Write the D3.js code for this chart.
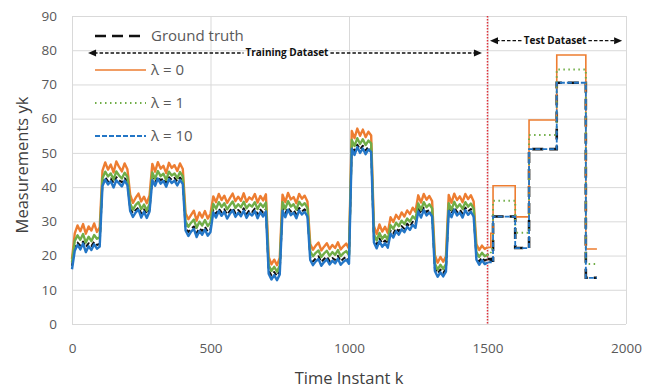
<!DOCTYPE html>
<html>
<head>
<meta charset="utf-8">
<script src="https://cdn.jsdelivr.net/npm/d3@7"></script>
<style>
  body { margin: 0; background: #fff; }
  svg text { font-family: "Open Sans", sans-serif; }
</style>
</head>
<body>
<div id="chart"></div>
<script>
// training part, one sample every 10 steps (k = 0 .. 1500)
const trainStep = 10;

const gtTrain = [
  17, 22.6, 23.8, 22.9, 24.1, 22.5, 23.6, 22.8, 24.0, 23.1, 23.4,
  41.6, 42.8, 41.7, 42.5, 41.2, 42.9, 42.0, 41.4, 42.6, 41.8,
  33.6, 32.4, 33.3, 34.0, 32.3, 33.5, 32.1, 33.4,
  42.7, 41.5, 43.0, 42.0, 42.6, 41.3, 42.9, 42.1, 42.7, 41.6, 42.8, 41.9,
  28.1, 26.9, 27.8, 28.5, 26.6, 28.0, 27.2, 28.4, 27.0, 27.7,
  33.4, 32.2, 33.7, 32.6, 33.5, 32.0, 33.1, 33.9, 32.4, 33.3, 32.5, 33.8, 32.1, 33.2, 32.7, 33.7, 32.0, 33.4, 32.5, 33.6,
  15.6, 14.2, 15.2, 14.0, 15.4,
  33.8, 32.3, 34.0, 32.8, 33.3, 32.0, 33.9, 32.9, 33.5, 32.4,
  19.5, 18.3, 19.2, 19.8, 18.1, 19.0, 19.7, 18.4, 19.3, 18.7, 19.9, 18.3, 19.1, 19.6, 18.6,
  52.0, 50.5, 52.4, 51.0, 52.1, 50.7, 51.8, 51.2,
  24.6, 23.2, 25.0, 23.6, 24.4, 23.4,
  27.3, 26.4, 28.0, 27.1, 28.6, 27.8, 29.3, 28.4, 29.9, 29.1,
  33.7, 32.2, 34.0, 32.7, 33.4, 32.4,
  16.3, 14.8, 15.9, 14.9, 16.1,
  33.8, 32.3, 34.1, 32.7, 33.4, 32.2, 34.0, 32.9, 33.6, 32.4,
  19.6, 18.3, 19.4, 18.5, 19.0
];

const lam0Train = [
  19, 26.5, 28.8, 27.1, 29.2, 26.4, 28.5, 27.3, 29.4, 26.9, 28.2,
  44.8, 47.2, 45.1, 46.6, 44.3, 47.5, 45.9, 44.6, 46.9, 45.2,
  37.8, 35.4, 36.9, 38.1, 35.8, 37.2, 35.3, 37.6,
  46.8, 44.5, 47.3, 45.4, 46.2, 44.1, 47.1, 45.6, 46.4, 44.7, 46.9, 45.3,
  32.4, 30.6, 31.9, 33.1, 30.2, 32.6, 31.1, 33.0, 30.8, 32.2,
  37.3, 35.6, 38.0, 36.2, 37.5, 35.4, 36.8, 38.1, 35.9, 37.2, 36.0, 38.2, 35.7, 37.0, 36.4, 38.0, 35.5, 37.4, 36.1, 37.9,
  19.6, 17.4, 18.8, 17.2, 19.3,
  37.8, 35.6, 38.3, 36.4, 37.1, 35.3, 38.0, 36.6, 37.5, 35.8,
  23.4, 21.7, 22.9, 23.8, 21.5, 22.6, 23.6, 21.9, 23.1, 22.2, 23.9, 21.8, 22.7, 23.5, 22.0,
  56.4, 54.3, 57.1, 55.0, 56.8, 54.6, 56.2, 55.1,
  28.6, 26.3, 29.1, 27.0, 28.4, 26.6,
  31.2, 29.8, 31.9, 30.7, 32.6, 31.4, 33.2, 32.1, 34.0, 32.8,
  37.6, 35.5, 38.0, 36.3, 37.4, 35.9,
  20.1, 17.9, 19.6, 18.2, 19.8,
  37.7, 35.4, 38.1, 36.2, 37.3, 35.6, 38.0, 36.5, 37.6, 35.8,
  23.3, 21.6, 22.9, 21.9, 22.4
];

const lam1Train = [
  18, 24.3, 25.9, 24.6, 26.3, 23.8, 25.5, 24.2, 26.0, 24.9, 25.4,
  42.6, 44.5, 43.1, 44.0, 42.2, 44.6, 43.4, 42.5, 44.2, 43.0,
  35.2, 33.4, 34.8, 35.6, 33.6, 34.9, 33.2, 35.1,
  44.3, 42.4, 44.7, 43.2, 43.9, 42.1, 44.5, 43.4, 44.0, 42.6, 44.4, 43.1,
  30.0, 28.4, 29.6, 30.5, 28.1, 29.9, 28.8, 30.4, 28.6, 29.7,
  35.1, 33.7, 35.6, 34.2, 35.3, 33.5, 34.7, 35.8, 33.9, 35.0, 34.1, 35.7, 33.8, 34.9, 34.3, 35.6, 33.6, 35.2, 34.2, 35.5,
  17.2, 15.5, 16.7, 15.3, 17.0,
  35.6, 33.7, 35.9, 34.3, 35.0, 33.4, 35.7, 34.6, 35.3, 33.9,
  21.2, 19.8, 20.8, 21.5, 19.6, 20.6, 21.4, 19.9, 21.0, 20.2, 21.6, 19.8, 20.7, 21.3, 20.1,
  53.8, 52.0, 54.3, 52.6, 54.0, 52.3, 53.6, 52.8,
  26.2, 24.4, 26.6, 24.9, 26.0, 24.6,
  28.9, 27.8, 29.6, 28.6, 30.2, 29.2, 30.8, 29.9, 31.5, 30.6,
  35.2, 33.4, 35.6, 34.1, 35.0, 33.8,
  17.7, 15.9, 17.3, 16.1, 17.5,
  35.3, 33.4, 35.7, 34.0, 35.0, 33.6, 35.6, 34.3, 35.2, 33.7,
  21.0, 19.6, 20.8, 19.8, 20.2
];

const lam10Train = [
  16, 21.4, 23.1, 21.8, 23.5, 21.0, 22.7, 21.6, 23.3, 22.0, 22.6,
  40.3, 42.2, 40.8, 41.7, 39.9, 42.0, 41.1, 40.2, 41.9, 40.6,
  33.0, 31.3, 32.6, 33.4, 31.1, 32.8, 31.0, 32.9,
  42.0, 40.4, 42.5, 41.0, 41.8, 40.1, 42.3, 41.2, 41.9, 40.5, 42.1, 40.9,
  27.3, 25.7, 27.0, 27.8, 25.4, 27.2, 26.1, 27.6, 25.8, 26.9,
  32.6, 31.1, 33.0, 31.6, 32.8, 30.8, 32.2, 33.2, 31.3, 32.5, 31.5, 33.1, 31.0, 32.4, 31.7, 33.0, 30.9, 32.7, 31.4, 32.9,
  14.7, 13.0, 14.3, 12.8, 14.5,
  33.1, 31.2, 33.4, 31.8, 32.5, 30.9, 33.2, 32.0, 32.8, 31.4,
  18.7, 17.2, 18.3, 19.0, 17.0, 18.1, 18.9, 17.4, 18.5, 17.7, 19.1, 17.3, 18.2, 18.8, 17.6,
  51.2, 49.4, 51.7, 50.0, 51.3, 49.6, 51.0, 50.2,
  23.8, 22.1, 24.2, 22.6, 23.6, 22.3,
  26.4, 25.3, 27.1, 26.1, 27.7, 26.8, 28.4, 27.5, 29.0, 28.1,
  32.9, 31.1, 33.3, 31.7, 32.6, 31.4,
  15.5, 13.8, 15.1, 13.9, 15.3,
  33.0, 31.2, 33.4, 31.7, 32.6, 31.1, 33.3, 31.9, 32.8, 31.4,
  18.8, 17.3, 18.6, 17.5, 18.0
];

// test part: levels hold from each k until the next one
const testK = [1500, 1512, 1520, 1600, 1650, 1750, 1855, 1895];
const gtTest = [19.0, 18.5, 31.4, 22.2, 51.1, 70.5, 13.5, 13.5];
const lam0Test = [22.4, 26.5, 40.4, 31.3, 59.6, 78.6, 21.9, 21.9];
const lam1Test = [20.2, 22.0, 36.0, 26.7, 55.2, 74.4, 17.5, 17.5];
const lam10Test = [18.0, 18.5, 31.4, 22.2, 51.1, 70.5, 13.5, 13.5];

const seriesNames = ['Ground truth', 'λ = 0', 'λ = 1', 'λ = 10'];
const xTicks = [0, 500, 1000, 1500, 2000];
const yTicks = [0, 10, 20, 30, 40, 50, 60, 70, 80, 90];
const splitK = 1500;

const width = 660;
const height = 390;
const margin = { top: 16, right: 34, bottom: 66, left: 72 };

const svg = d3.select('#chart')
  .append('svg')
  .attr('width', width)
  .attr('height', height);

const x = d3.scaleLinear().domain([0, 2000]).range([margin.left, width - margin.right]);
const y = d3.scaleLinear().domain([0, 90]).range([height - margin.bottom, margin.top]);

// grid (also makes the frame)
svg.append('g')
  .attr('transform', `translate(${margin.left},0)`)
  .call(d3.axisLeft(y).tickValues(yTicks).tickSize(-(width - margin.left - margin.right)).tickFormat(''))
  .call(g => g.select('.domain').remove())
  .call(g => g.selectAll('line').attr('stroke', '#d9d9d9'));

svg.append('g')
  .attr('transform', `translate(0,${height - margin.bottom})`)
  .call(d3.axisBottom(x).tickValues(xTicks).tickSize(-(height - margin.top - margin.bottom)).tickFormat(''))
  .call(g => g.select('.domain').remove())
  .call(g => g.selectAll('line').attr('stroke', '#d9d9d9'));

// tick labels
svg.append('g')
  .attr('transform', `translate(${margin.left},0)`)
  .call(d3.axisLeft(y).tickValues(yTicks).tickSize(0).tickPadding(15))
  .call(g => g.select('.domain').remove())
  .selectAll('text')
  .attr('fill', '#595959')
  .style('font-size', '13.5px');

svg.append('g')
  .attr('transform', `translate(0,${height - margin.bottom})`)
  .call(d3.axisBottom(x).tickValues(xTicks).tickFormat(d3.format('d')).tickSize(0).tickPadding(19))
  .call(g => g.select('.domain').remove())
  .selectAll('text')
  .attr('fill', '#595959')
  .style('font-size', '13.5px');

// axis titles
svg.append('text')
  .attr('x', (margin.left + width - margin.right) / 2)
  .attr('y', 384)
  .attr('text-anchor', 'middle')
  .attr('fill', '#404040')
  .style('font-size', '16.5px')
  .text('Time Instant k');

svg.append('text')
  .attr('transform', 'rotate(-90)')
  .attr('x', -165)
  .attr('y', 28)
  .attr('text-anchor', 'middle')
  .attr('fill', '#404040')
  .style('font-size', '16.5px')
  .text('Measurements yk');

// split between training and test
svg.append('line')
  .attr('x1', x(splitK)).attr('x2', x(splitK))
  .attr('y1', y(90)).attr('y2', y(0))
  .attr('stroke', '#e0303a')
  .attr('stroke-width', 1.5)
  .attr('stroke-dasharray', '1.5,1.5');

const series = [
  { name: seriesNames[0], train: gtTrain, test: gtTest, color: '#111', width: 2.6, dash: '11,6', trainWidth: 2, trainDash: '5,3' },
  { name: seriesNames[1], train: lam0Train, test: lam0Test, color: '#ed7d31', width: 1.6, dash: null, trainWidth: 2.4, trainDash: null },
  { name: seriesNames[2], train: lam1Train, test: lam1Test, color: '#70ad47', width: 2, dash: '1.5,3.5', trainWidth: 2.4, trainDash: null },
  { name: seriesNames[3], train: lam10Train, test: lam10Test, color: '#2376c6', width: 1.8, dash: '5,2', trainWidth: 2.4, trainDash: null }
];

const trainLine = d3.line()
  .x((d, i) => x(i * trainStep))
  .y(d => y(d));

const testLine = d3.line()
  .curve(d3.curveStepAfter)
  .x((d, i) => x(testK[i]))
  .y(d => y(d));

series.forEach(s => {
  svg.append('path')
    .datum(s.train)
    .attr('d', trainLine)
    .attr('fill', 'none')
    .attr('stroke', s.color)
    .attr('stroke-width', s.trainWidth)
    .attr('stroke-linejoin', 'round')
    .attr('stroke-dasharray', s.trainDash);

  svg.append('path')
    .datum(s.test)
    .attr('d', testLine)
    .attr('fill', 'none')
    .attr('stroke', s.color)
    .attr('stroke-width', s.width)
    .attr('stroke-dasharray', s.dash);
});

// legend
const legendY = [36, 70, 103, 136];
series.forEach((s, i) => {
  svg.append('line')
    .attr('x1', 95).attr('x2', 146)
    .attr('y1', legendY[i]).attr('y2', legendY[i])
    .attr('stroke', s.color)
    .attr('stroke-width', s.width)
    .attr('stroke-dasharray', s.dash);
  svg.append('text')
    .attr('x', 151)
    .attr('y', legendY[i])
    .attr('dy', '0.35em')
    .attr('fill', '#595959')
    .style('font-size', '15px')
    .text(s.name);
});

// range arrows for the two datasets
function arrowHead(px, py, dir) {
  svg.append('path')
    .attr('d', `M${px},${py} L${px - dir * 8},${py - 3.5} L${px - dir * 8},${py + 3.5} Z`)
    .attr('fill', '#111');
}

function rangeArrow(k0, k1, v, labelK, label) {
  const yy = y(v);
  const t = svg.append('text')
    .attr('x', x(labelK))
    .attr('y', yy)
    .attr('dy', '0.35em')
    .attr('text-anchor', 'middle')
    .attr('fill', '#111')
    .style('font-size', '10px')
    .style('font-weight', 'bold')
    .text(label);
  const w = t.node().getComputedTextLength();
  const segs = [[x(k0) + 6, x(labelK) - w / 2 - 2], [x(labelK) + w / 2 + 2, x(k1) - 6]];
  segs.forEach(sg => {
    svg.append('line')
      .attr('x1', sg[0]).attr('x2', sg[1])
      .attr('y1', yy).attr('y2', yy)
      .attr('stroke', '#111')
      .attr('stroke-width', 1.4)
      .attr('stroke-dasharray', '3.5,2');
  });
  arrowHead(x(k0), yy, -1);
  arrowHead(x(k1), yy, 1);
}

rangeArrow(58, 1480, 79.2, 776, 'Training Dataset');
rangeArrow(1509, 1986, 82.8, 1744, 'Test Dataset');
</script>
</body>
</html>
